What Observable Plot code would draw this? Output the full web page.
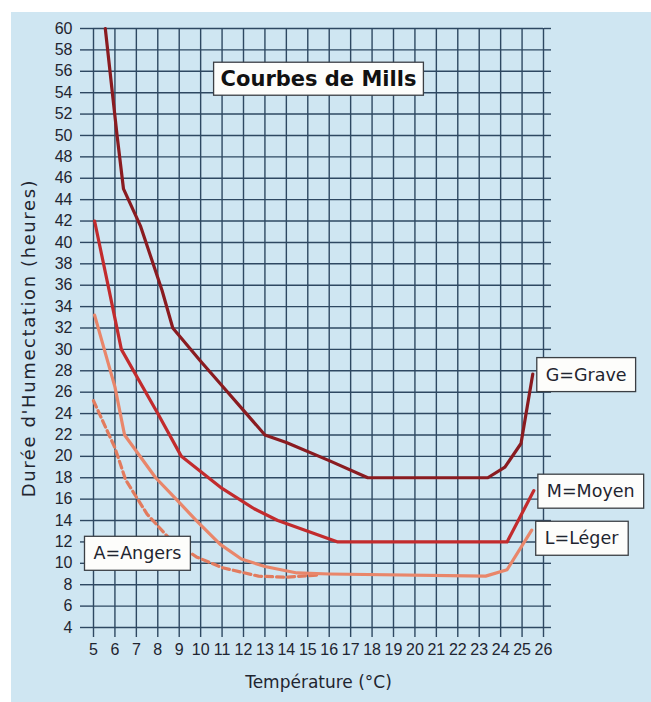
<!DOCTYPE html>
<html>
<head>
<meta charset="utf-8">
<script src="https://cdn.jsdelivr.net/npm/d3@7"></script>
<script src="https://cdn.jsdelivr.net/npm/@observablehq/plot@0.6"></script>
<style>
  html, body { margin: 0; padding: 0; background: #ffffff; overflow: hidden; width: 651px; height: 702px; }
  #bg { position: absolute; left: 11px; top: 12px; right: 0; bottom: 0; background: #cfe6f2; }
  #chart { position: absolute; left: 0; top: 0; }
</style>
</head>
<body>
<div id="bg"></div>
<div id="chart"></div>
<script>
// ---- Data ----
const xTicks = d3.range(5, 27);          // température °C
const yTicks = d3.range(4, 61, 2);       // heures

const seriesNames = ["G=Grave", "M=Moyen", "L=Léger", "A=Angers"];
const seriesColors = ["#8a1b20", "#c22b2d", "#e9866a", "#e27b5e"];

const graveTemp  = [5.55, 6.1, 6.4, 7.2, 8.2, 8.7, 10, 11, 12, 13, 14, 16, 17.8, 23.4, 24.2, 24.95, 25.5];
const graveHours = [60, 50, 45, 41.5, 35.5, 32, 28.9, 26.6, 24.3, 22, 21.3, 19.6, 18, 18, 19, 21.2, 27.7];

const moyenTemp  = [5.05, 5.7, 6.3, 8, 9.1, 11, 12.5, 13.6, 16.4, 24.3, 25.55];
const moyenHours = [42, 35.8, 30, 24, 20, 17, 15.1, 14, 12, 12, 16.8];

const legerTemp  = [5.05, 6, 6.45, 7.9, 8.9, 9.8, 10.9, 11.9, 13, 14.5, 16, 23.3, 24.3, 25.45];
const legerHours = [33.2, 26.5, 22, 18, 15.9, 14, 11.8, 10.4, 9.7, 9.1, 9, 8.8, 9.4, 13.1];

const angersTemp  = [5, 6, 6.5, 7.5, 8.5, 9.8, 11, 12.7, 14, 15.5];
const angersHours = [25.2, 20.8, 17.8, 14.6, 12.4, 10.6, 9.6, 8.8, 8.7, 8.9];

const chartTitle = "Courbes de Mills";
const xTitle = "Température (°C)";
const yTitle = "Durée d'Humectation (heures)";
const angersLabelHours = 10.9;

// ---- Tables ----
const rows = (name, xs, ys) => xs.map((t, i) => ({serie: name, t, h: ys[i]}));
const solid = [
  ...rows(seriesNames[2], legerTemp, legerHours),
  ...rows(seriesNames[1], moyenTemp, moyenHours),
  ...rows(seriesNames[0], graveTemp, graveHours)
];
const dashed = rows(seriesNames[3], angersTemp, angersHours);
const angersLabel = [{serie: seriesNames[3], t: angersTemp[0], h: angersLabelHours}];

const gridColor = "#2e4862";
const textColor = "#1f2530";

const chart = Plot.plot({
  width: 651,
  height: 702,
  marginLeft: 93,
  marginRight: 108,
  marginTop: 28,
  marginBottom: 75,
  style: {background: "transparent", fontFamily: "DejaVu Sans", color: textColor, overflow: "visible"},
  x: {domain: [5, 26]},
  y: {domain: [4, 60]},
  color: {domain: seriesNames, range: seriesColors},
  marks: [
    Plot.gridX(xTicks, {stroke: gridColor, strokeOpacity: 1, strokeWidth: 1.4}),
    Plot.gridY(yTicks, {stroke: gridColor, strokeOpacity: 1, strokeWidth: 1.4}),
    Plot.axisX(xTicks, {anchor: "bottom", tickSize: 10, tickPadding: 6, stroke: gridColor, strokeWidth: 1.4,
      fill: textColor, fontSize: 16, fontFamily: "Liberation Sans", label: null}),
    Plot.axisY(yTicks, {anchor: "left", tickSize: 13, tickPadding: 8, stroke: gridColor, strokeWidth: 1.4,
      fill: textColor, fontSize: 16, fontFamily: "Liberation Sans", label: null}),
    Plot.axisY(yTicks, {anchor: "right", tickSize: 7, tickFormat: () => "", stroke: gridColor, strokeWidth: 1.4, label: null}),
    Plot.line(dashed, {x: "t", y: "h", z: "serie", stroke: "serie", strokeWidth: 3.2, strokeDasharray: "7,4"}),
    Plot.line(solid, {x: "t", y: "h", z: "serie", stroke: "serie", strokeWidth: 3.2, strokeLinejoin: "round"}),
    Plot.text(solid, Plot.selectLast({x: "t", y: "h", z: "serie", text: "serie",
      filter: d => d.serie !== seriesNames[2],
      textAnchor: "start", lineAnchor: "middle", dx: 13, dy: 1, fontSize: 17.5, fill: textColor})),
    Plot.text(solid, Plot.selectLast({x: "t", y: "h", z: "serie", text: "serie",
      filter: d => d.serie === seriesNames[2],
      textAnchor: "start", lineAnchor: "middle", dx: 13, dy: 8.5, fontSize: 17.5, fill: textColor})),
    Plot.text(angersLabel, {x: "t", y: "h", text: "serie", textAnchor: "start", lineAnchor: "middle", fontSize: 17.5, fill: textColor}),
    Plot.text([chartTitle], {frameAnchor: "top", lineAnchor: "middle", textAnchor: "middle", dy: 50.5,
      fontSize: 21, fontWeight: "bold", fill: "#111"}),
    Plot.text([xTitle], {frameAnchor: "bottom", lineAnchor: "bottom", textAnchor: "middle", dy: 60, fontSize: 17, fill: textColor}),
    Plot.text([yTitle], {frameAnchor: "left", rotate: -90, textAnchor: "middle", lineAnchor: "middle",
      dx: -64, dy: 10, fontSize: 18, fill: textColor})
  ]
});

document.getElementById("chart").appendChild(chart);

// wider tracking on the vertical axis title
chart.querySelectorAll("text").forEach(t => {
  if (t.textContent === yTitle) t.setAttribute("letter-spacing", "1.6");
});

// boxes behind the labels and the title
const boxed = new Map([...seriesNames.map(n => [n, [9, 7]]), [chartTitle, [7, 4.5]]]);
chart.querySelectorAll("text").forEach(t => {
  const key = t.textContent;
  if (!boxed.has(key)) return;
  const [px, py] = boxed.get(key);
  const b = t.getBBox();
  const r = document.createElementNS("http://www.w3.org/2000/svg", "rect");
  r.setAttribute("x", b.x - px);
  r.setAttribute("y", b.y - py);
  r.setAttribute("width", b.width + 2 * px);
  r.setAttribute("height", b.height + 2 * py);
  r.setAttribute("fill", "#fdfdfb");
  r.setAttribute("stroke", "#3b3f44");
  r.setAttribute("stroke-width", 1.3);
  if (t.getAttribute("transform")) r.setAttribute("transform", t.getAttribute("transform"));
  t.parentNode.insertBefore(r, t);
});
</script>
</body>
</html>
